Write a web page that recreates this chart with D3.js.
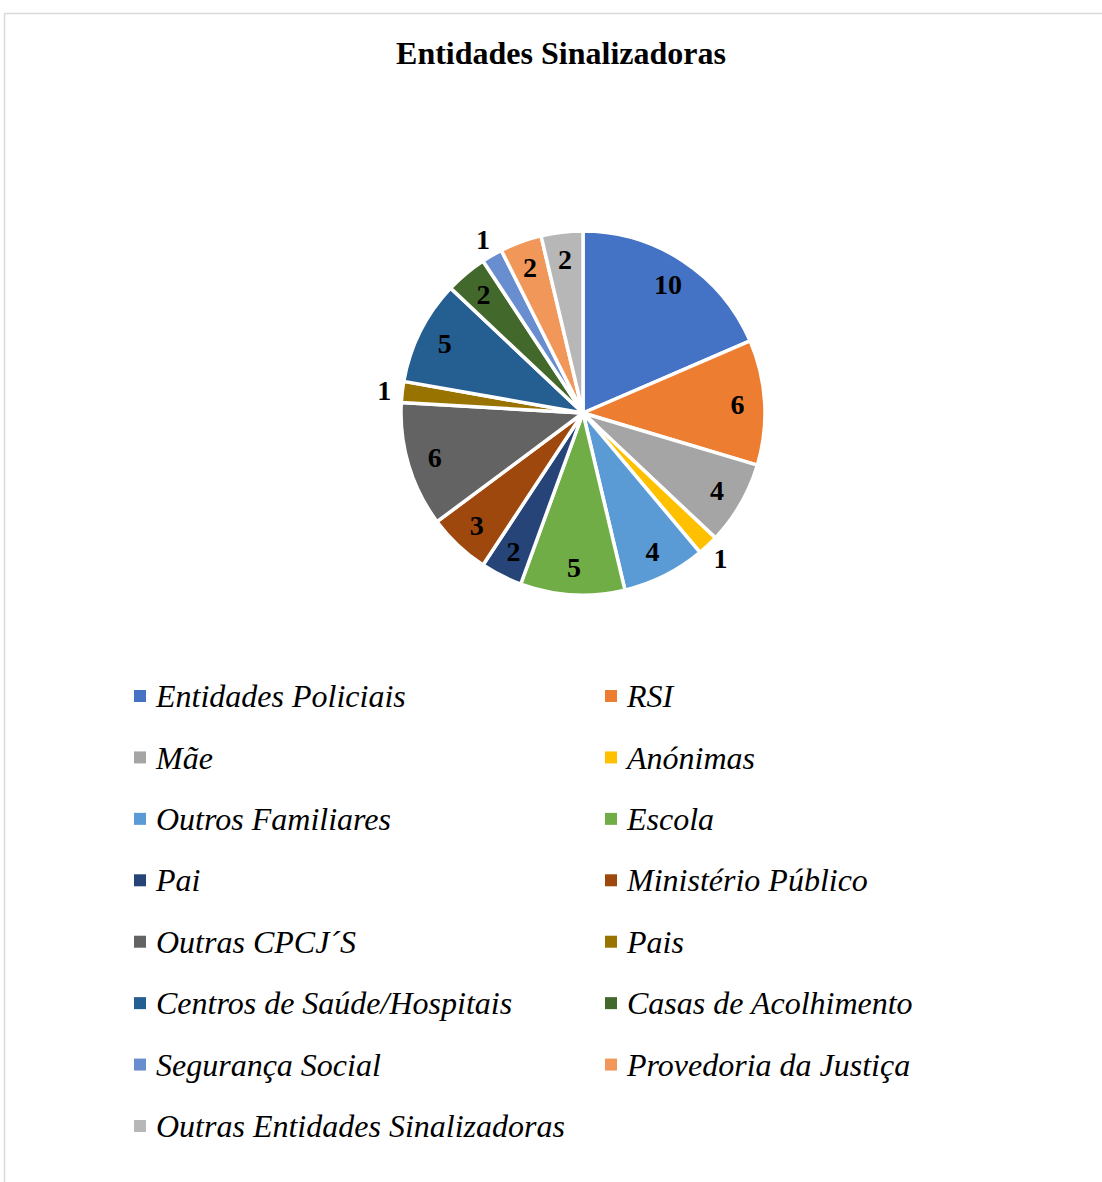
<!DOCTYPE html>
<html lang="pt">
<head>
<meta charset="UTF-8">
<title>Entidades Sinalizadoras</title>
<script src="https://cdn.jsdelivr.net/npm/d3@7"></script>
<style>
    body { margin: 0; background: #fff; }
    svg { display: block; }
</style>
</head>
<body>
<svg id="chart" width="1102" height="1182"></svg>
<script>
const categories = [
    'Entidades Policiais', 'RSI', 'Mãe', 'Anónimas', 'Outros Familiares', 'Escola',
    'Pai', 'Ministério Público', 'Outras CPCJ´S', 'Pais', 'Centros de Saúde/Hospitais',
    'Casas de Acolhimento', 'Segurança Social', 'Provedoria da Justiça',
    'Outras Entidades Sinalizadoras'
];
const values = [10, 6, 4, 1, 4, 5, 2, 3, 6, 1, 5, 2, 1, 2, 2];
const colors = [
    '#4472C4', '#ED7D31', '#A5A5A5', '#FFC000', '#5B9BD5', '#70AD47',
    '#264478', '#9E480E', '#636363', '#997300', '#255E91',
    '#43682B', '#698ED0', '#F1975A', '#B7B7B7'
];
// slices whose label sits outside the pie
const outsideLabels = ['Anónimas', 'Pais', 'Segurança Social'];

const svg = d3.select('#chart');
const cx = 583, cy = 413, radius = 182;
const serif = '"Liberation Serif", "Times New Roman", serif';

// chart area border
svg.append('rect')
    .attr('x', 4.5).attr('y', 13.5)
    .attr('width', 1120).attr('height', 1190)
    .attr('fill', 'none')
    .attr('stroke', '#d9d9d9')
    .attr('stroke-width', 1.5);

svg.append('text')
    .attr('x', 561).attr('y', 64)
    .attr('text-anchor', 'middle')
    .attr('font-family', serif)
    .attr('font-weight', 'bold')
    .attr('font-size', '32px')
    .text('Entidades Sinalizadoras');

const color = d3.scaleOrdinal().domain(categories).range(colors);

const pie = d3.pie().sort(null).value(d => d.value);
const data = categories.map((c, i) => ({ name: c, value: values[i] }));
const arcs = pie(data);

const arc = d3.arc().innerRadius(0).outerRadius(radius);
const labelArc = d3.arc().innerRadius(radius * 0.85).outerRadius(radius * 0.85);
const outArc = d3.arc().innerRadius(radius * 1.1).outerRadius(radius * 1.1);

const g = svg.append('g').attr('transform', `translate(${cx},${cy})`);

g.selectAll('path.slice')
    .data(arcs)
    .join('path')
    .attr('class', 'slice')
    .attr('d', arc)
    .attr('fill', d => color(d.data.name))
    .attr('stroke', '#fff')
    .attr('stroke-width', 3.5)
    .attr('stroke-linejoin', 'round');

g.selectAll('text.lbl')
    .data(arcs)
    .join('text')
    .attr('class', 'lbl')
    .attr('transform', d => {
        const p = outsideLabels.includes(d.data.name) ? outArc.centroid(d) : labelArc.centroid(d);
        return `translate(${p})`;
    })
    .attr('text-anchor', 'middle')
    .attr('dy', '0.35em')
    .attr('font-family', serif)
    .attr('font-weight', 'bold')
    .attr('font-size', '28px')
    .attr('fill', '#000')
    .text(d => d.value);

// legend: two columns
const rows = Math.ceil(categories.length / 2);
const rowScale = d3.scalePoint()
    .domain(d3.range(rows))
    .range([696, 1126]);
const colX = [134, 605];

const legend = svg.append('g')
    .selectAll('g')
    .data(categories)
    .join('g')
    .attr('transform', (d, i) => `translate(${colX[i % 2]},${rowScale(Math.floor(i / 2))})`);

legend.append('rect')
    .attr('x', 0).attr('y', -6)
    .attr('width', 12).attr('height', 12)
    .attr('fill', d => color(d));

legend.append('text')
    .attr('x', 22)
    .attr('dy', '0.35em')
    .attr('font-family', serif)
    .attr('font-style', 'italic')
    .attr('font-size', '32px')
    .attr('fill', '#000')
    .text(d => d);
</script>
</body>
</html>
